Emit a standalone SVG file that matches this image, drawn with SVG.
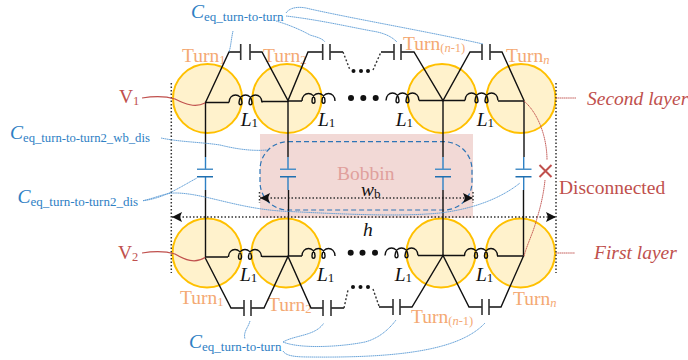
<svg xmlns="http://www.w3.org/2000/svg" width="688" height="360" viewBox="0 0 688 360">
<style>
text{font-family:"Liberation Serif","Times New Roman",serif}
.turn{fill:#fff2cc;stroke:#ffc000;stroke-width:2}
.w{fill:none;stroke:#111;stroke-width:1.4;stroke-linejoin:miter}
.wb{fill:none;stroke:#2e80c4;stroke-width:1.4}
.pl{fill:none;stroke:#333;stroke-width:1.6}
.ct{fill:none;stroke:#4a90c8;stroke-width:1.6}
.cb{fill:none;stroke:#1f6fb0;stroke-width:1.4}
.dot{fill:none;stroke:#333;stroke-width:1.5;stroke-dasharray:1.5 2}
.lb{fill:none;stroke:#5b9bd5;stroke-width:.9;stroke-dasharray:1.5 .4}
.lr{fill:none;stroke:#c0504d;stroke-width:.9;stroke-dasharray:1.5 .4}
.t{fill:#f4a973;font-size:19.5px}
.ts{font-size:12.5px}
.c{fill:#2e80c4;font-size:13px}
.ci{font-size:19.5px;font-style:italic}
.r{fill:#c0504d;font-size:19.5px}
.ri{font-style:italic}
.k{fill:#111;font-size:19.5px}
.ks{font-size:13px}
.i{font-style:italic}
</style>
<defs>
<path id="coil" d="M0 0c0-10 13-10 13 0c0 3-3 3-3 0c0-10 13-10 13 0c0 3-3 3-3 0c0-10 13-10 13 0"/>
<marker id="head" markerUnits="userSpaceOnUse" markerWidth="11" markerHeight="10" refX="10" refY="5" orient="auto-start-reverse" viewBox="0 0 10 10"><path d="M0 0L10 5L0 10L2 5Z" fill="#111"/></marker>
</defs>
<g id="bobbin">
<rect x="260" y="134" width="213" height="84" fill="#f2d9d6"/>
<text x="337" y="179.500" fill="#e0a09c" font-size="19.5">Bobbin</text>
</g>
<g id="turn1-top"><circle class="turn" cx="207.5" cy="98.5" r="34.5"/><text class="t" x="182" y="62">Turn<tspan class="ts" dy="2">1</tspan></text></g>
<g id="turn2-top"><circle class="turn" cx="287" cy="98.5" r="34.5"/><text class="t" x="263" y="62">Turn<tspan class="ts" dy="2">2</tspan></text></g>
<g id="turnn1-top"><circle class="turn" cx="442" cy="98.5" r="34.5"/><text class="t" x="403" y="50">Turn<tspan class="ts" dy="2">(</tspan><tspan class="ts i">n</tspan><tspan class="ts">-1)</tspan></text></g>
<g id="turnn-top"><circle class="turn" cx="521" cy="98.5" r="34.5"/><text class="t" x="506" y="62">Turn<tspan class="ts i" dy="2">n</tspan></text></g>
<g id="turn1-bottom"><circle class="turn" cx="207" cy="253" r="34.5"/><text class="t" x="180" y="304">Turn<tspan class="ts" dy="2">1</tspan></text></g>
<g id="turn2-bottom"><circle class="turn" cx="286" cy="253" r="34.5"/><text class="t" x="268" y="311">Turn<tspan class="ts" dy="2">2</tspan></text></g>
<g id="turnn1-bottom"><circle class="turn" cx="441" cy="253" r="34.5"/><text class="t" x="411" y="323">Turn<tspan class="ts" dy="2">(</tspan><tspan class="ts i">n</tspan><tspan class="ts">-1)</tspan></text></g>
<g id="turnn-bottom"><circle class="turn" cx="520.5" cy="253" r="34.5"/><text class="t" x="513" y="305">Turn<tspan class="ts i" dy="2">n</tspan></text></g>
<g id="connectors">
<rect x="260" y="141.7" width="212" height="68.3" rx="28" fill="none" stroke="#2e75b6" stroke-width="1.2" stroke-dasharray="5 3"/>
<path class="dot" d="M171.3 83V273M556 83V273M259.5 192V203M473 192V203"/>
<path class="dot" d="M172 217H556" marker-start="url(#head)" marker-end="url(#head)"/>
<path class="dot" d="M260 198H473" marker-start="url(#head)" marker-end="url(#head)"/>
<g class="w">
<path d="M205.5 157V102.5H229M262 101.5H288M302 101H288V157"/>
<path d="M419 100.5H443M465 100.5H443V157M498 101H524V157"/>
<path d="M205.5 190V257H228M262 256.5H288M302 256H288.500V190"/>
<path d="M418 255.5H443M465 255.500H443V190M497 256H523.500V190"/>
<path d="M205.500 102.500L229 52H240.700M250 52H262L288 100.500L308 52H322.500M330 52H343"/>
<path d="M381 52H394M401 52H414L443 100.500L470 52H482M490 52H502L524 100.500"/>
<path d="M205 257.500L231 308H244M251 308H264L288 256.500L311 308H323M331 308H344"/>
<path d="M379 307H393M400 307H412L443 255.500L469 307H482M489 307H501L523.500 256"/>
</g>
<g fill="none" stroke="#111" stroke-width="1.4">
<use href="#coil" x="229" y="102.500"/><use href="#coil" x="302" y="101"/><use href="#coil" x="386" y="100.500"/><use href="#coil" x="465" y="100.500"/>
<use href="#coil" x="228.500" y="257"/><use href="#coil" x="302" y="256"/><use href="#coil" x="385" y="255.500"/><use href="#coil" x="464.500" y="256"/>
</g>
<path class="pl" d="M240.700 44V60M250 44V60M322.700 44V60M330 44V60M394 44V60M401 44V60M482 44V60M490 44V60"/>
<path class="pl" d="M244 300V316M251 300V316M323 300V316M331 300V316M393 299V315M400 299V315M482 299V315M489 299V315"/>
<path d="M343 52L350 70M373 70L381 52M344 308L348 290M373 289L379 306" fill="none" stroke="#333" stroke-width="1.400" stroke-dasharray="2 2"/>
<g fill="#111"><circle cx="353.500" cy="71" r="2"/><circle cx="361" cy="71" r="2"/><circle cx="368" cy="71" r="2"/><circle cx="353" cy="287" r="2"/><circle cx="360.500" cy="287" r="2"/><circle cx="368" cy="287" r="2"/></g>
<g fill="#111"><circle cx="351" cy="98" r="3"/><circle cx="363.300" cy="98" r="3"/><circle cx="375.700" cy="98" r="3"/><circle cx="350.700" cy="252.700" r="3"/><circle cx="362.500" cy="252.700" r="3"/><circle cx="375" cy="252.700" r="3"/></g>
<path class="wb" d="M205.500 157V169M205.500 177V190M288 157V169M288 177V190M443 157V169M443 177V190M523.700 157V169M523.700 177V190"/>
<path class="ct" d="M197 169.300H213M280 169.300H296M435 169.300H451M515.500 169.300H531.500"/>
<path class="cb" d="M197 176.700H213M280 176.700H296M435 176.700H451M515.500 176.700H531.500"/>
<path class="lb" d="M233 31C231 40 231 46 229 52"/>
<path class="lb" d="M276 21C290 25 303 31 310 35C316 37 322 38 325 42"/>
<path class="lb" d="M286 13C290 7 300 6 310 9C360 20 430 32 483 44"/>
<path class="lb" d="M286 16C320 20 350 27 372 31C385 33 392 37 397 42"/>
<path class="lb" d="M161 138C180 142 200 142 220 145C240 150 255 151 267 150"/>
<path class="lb" d="M143 200.700C165 198 180 187 197 178"/>
<path class="lb" d="M143 200.700C155 198 165 193 175 193C205 193 240 210 290 211.500C340 214 400 217 440 213C480 208 505 195 520 183"/>
<path class="lb" d="M250 321C248 328 243 332 245 339"/>
<path class="lb" d="M283 342C295 335 315 336 323.500 323.500"/>
<path class="lb" d="M283 342C300 349 340 347 365 342C380 338 390 328 396 320"/>
<path class="lb" d="M283 351C286 356 295 357 310 357C400 358 460 350 485 323"/>
<path d="M142 98C155 96 165 96 175 99C185 104 195 108 205 103M142 253C155 251 165 251 175 254C185 260 195 264 205 257.500" fill="none" stroke="#c0504d" stroke-width="1.200"/>
<path class="lr" d="M556 98H576M556 253H575"/>
<path class="lr" d="M524 101C540 115 547 140 547 160M545 180C543 200 538 215 535 225C532 235 527 245 524 256"/>
<path d="M539.500 165L551.500 177M551.500 165L539.500 177" fill="none" stroke="#c0504d" stroke-width="2"/>
</g>
<g id="labels">
<text class="c" x="191" y="20.500"><tspan class="ci" dy="-3">C</tspan><tspan dy="3">eq_turn-to-turn</tspan></text>
<text class="c" style="font-size:12.700px" x="10" y="141.700"><tspan class="ci" dy="-3">C</tspan><tspan dy="3">eq_turn-to-turn2_wb_dis</tspan></text>
<text class="c" x="17.500" y="205.700"><tspan class="ci" dy="-3">C</tspan><tspan dy="3">eq_turn-to-turn2_dis</tspan></text>
<text class="c" x="189" y="350.700"><tspan class="ci" dy="-3">C</tspan><tspan dy="3">eq_turn-to-turn</tspan></text>
<text class="r" x="119" y="103">V<tspan class="ts" dy="2">1</tspan></text>
<text class="r" x="118" y="259">V<tspan class="ts" dy="2">2</tspan></text>
<text class="r ri" x="587" y="105">Second layer</text>
<text class="r ri" x="594" y="259">First layer</text>
<text class="r" x="559" y="194">Disconnected</text>
<text class="k i" x="240.700" y="125.700">L<tspan class="ks" style="font-style:normal" dy="1">1</tspan></text>
<text class="k i" x="318" y="125.700">L<tspan class="ks" style="font-style:normal" dy="1">1</tspan></text>
<text class="k i" x="395.700" y="125.700">L<tspan class="ks" style="font-style:normal" dy="1">1</tspan></text>
<text class="k i" x="476.700" y="125.700">L<tspan class="ks" style="font-style:normal" dy="1">1</tspan></text>
<text class="k i" x="240" y="281">L<tspan class="ks" style="font-style:normal" dy="1">1</tspan></text>
<text class="k i" x="317" y="281">L<tspan class="ks" style="font-style:normal" dy="1">1</tspan></text>
<text class="k i" x="394.700" y="281">L<tspan class="ks" style="font-style:normal" dy="1">1</tspan></text>
<text class="k i" x="476" y="281">L<tspan class="ks" style="font-style:normal" dy="1">1</tspan></text>
<text class="k i" x="361" y="195.500">w<tspan class="ks" style="font-style:normal" dy="2">b</tspan></text>
<text class="k i" x="363" y="236">h</text>
</g>
</svg>
